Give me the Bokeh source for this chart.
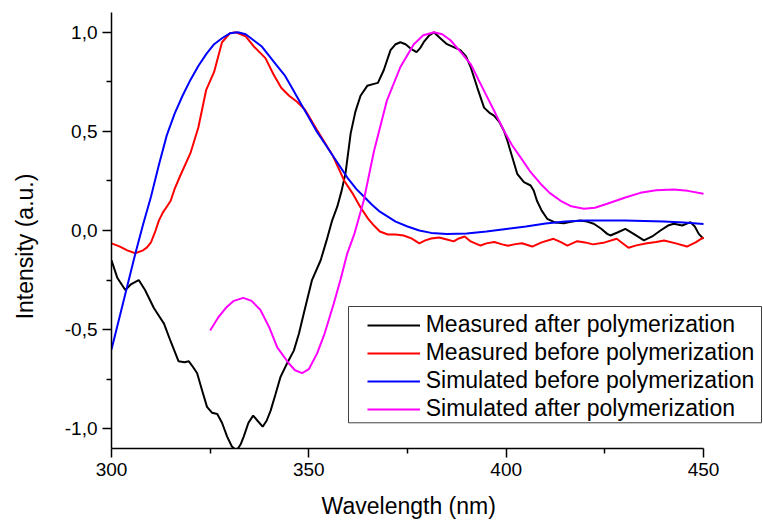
from bokeh.plotting import figure
from bokeh.models import (Range1d, FixedTicker, CustomJSTickFormatter, Legend,
                          LegendItem, BoxAnnotation)
from bokeh.embed import file_html
from bokeh.resources import INLINE

# ---------------- data ----------------
meas_after_wl = [300, 301.5, 303.5, 305, 306.9, 308.5, 310.7, 312, 313.3, 315, 317, 318.5,
                 319.6, 320.7, 321.7, 323, 324.2, 325.5, 326.8, 328, 329.3, 330.5, 331.7,
                 332.7, 333.5, 334.7, 335.9, 337, 338.3, 339.3, 340.3, 341.5, 342.8, 344.5,
                 346.2, 347.5, 348.7, 350.8, 353, 354.5, 355.9, 357.2, 358.3, 359.3, 360.6,
                 361.8, 363.1, 364.8, 366.5, 367.5, 369, 370.7, 372, 373.2, 374.5, 375.8,
                 377.3, 378.2, 379.1, 380.5, 381.7, 383.3, 385, 386.7, 388.4, 389.8, 391,
                 392.7, 394.4, 395.7, 396.9, 398.2, 399.4, 400.2, 401.1, 402.8, 404.5, 406.2,
                 407, 407.8, 409, 410.4, 412.5, 414.6, 416.7, 418.8, 420.5, 422.2, 424,
                 425.6, 426.4, 428.2, 430.2, 432.5, 434.9, 437, 439.1, 441, 442.5, 444.6,
                 446.7, 447.8, 448.8, 450]
meas_after = [-0.15, -0.24, -0.30, -0.27, -0.25, -0.30, -0.39, -0.43, -0.47, -0.56, -0.66,
              -0.665, -0.66, -0.69, -0.72, -0.81, -0.89, -0.92, -0.926, -0.97, -1.04, -1.09,
              -1.11, -1.08, -1.04, -0.97, -0.934, -0.96, -0.99, -0.96, -0.91, -0.83, -0.74,
              -0.67, -0.606, -0.52, -0.42, -0.25, -0.15, -0.05, 0.05, 0.12, 0.20, 0.29, 0.49,
              0.60, 0.68, 0.73, 0.74, 0.745, 0.81, 0.91, 0.94, 0.95, 0.94, 0.918, 0.90, 0.92,
              0.95, 0.985, 1.0, 0.97, 0.94, 0.925, 0.91, 0.88, 0.825, 0.72, 0.62, 0.595,
              0.58, 0.55, 0.505, 0.46, 0.40, 0.286, 0.244, 0.227, 0.20, 0.15, 0.10, 0.059,
              0.04, 0.037, 0.045, 0.05, 0.045, 0.034, 0.01, -0.017, -0.025, -0.01, 0.008,
              -0.02, -0.05, -0.03, 0.0, 0.025, 0.034, 0.025, 0.042, 0.02, -0.017, -0.042]

meas_before_wl = [300, 302, 304, 306, 308, 309, 310, 311, 312, 313, 314, 315, 316, 317.5,
                  320, 322, 324, 326, 328, 330, 331.5, 334, 336, 337.5, 339, 341, 343, 345,
                  347, 349, 352, 356, 359, 361, 363, 365, 366.5, 368, 370, 372, 374, 376,
                  378, 379.5, 381, 383, 385, 386.7, 388, 389.5, 391, 393.5, 395, 397, 399,
                  400.5, 402, 404, 406.6, 409, 412, 414, 415.5, 418, 420, 422, 425, 428,
                  431, 433, 435.7, 438, 440, 443, 445.8, 448, 450]
meas_before = [-0.065, -0.08, -0.10, -0.115, -0.10, -0.085, -0.06, -0.01, 0.05, 0.09, 0.12,
               0.15, 0.21, 0.28, 0.39, 0.52, 0.71, 0.80, 0.95, 0.995, 1.0, 0.98, 0.93, 0.90,
               0.87, 0.79, 0.72, 0.68, 0.65, 0.61, 0.51, 0.38, 0.25, 0.19, 0.12, 0.06, 0.025,
               -0.005, -0.02, -0.02, -0.025, -0.04, -0.065, -0.05, -0.04, -0.035, -0.045,
               -0.055, -0.04, -0.03, -0.055, -0.076, -0.065, -0.058, -0.07, -0.077, -0.07,
               -0.064, -0.081, -0.06, -0.042, -0.06, -0.076, -0.054, -0.06, -0.07, -0.06,
               -0.042, -0.087, -0.075, -0.064, -0.058, -0.05, -0.065, -0.081, -0.06, -0.035]

sim_before_wl = [300, 302, 304, 306, 308, 310, 312, 314, 316, 318, 320, 322, 324, 326, 328,
                 330, 332, 334, 336, 338, 340, 342, 344, 346, 348, 350, 352, 354, 356, 358,
                 360, 362, 364, 366, 368, 370, 372, 375, 378, 381, 385, 390, 395, 400, 405,
                 410, 415, 420, 425, 430, 435, 440, 445, 450]
sim_before = [-0.60, -0.44, -0.28, -0.12, 0.03, 0.17, 0.33, 0.48, 0.59, 0.68, 0.76, 0.83,
              0.89, 0.94, 0.97, 0.995, 1.0, 0.99, 0.96, 0.93, 0.88, 0.83, 0.78, 0.71, 0.64,
              0.57, 0.50, 0.44, 0.38, 0.32, 0.26, 0.21, 0.17, 0.13, 0.095, 0.07, 0.045, 0.02,
              0.0, -0.012, -0.018, -0.015, -0.005, 0.008, 0.02, 0.035, 0.045, 0.05, 0.05,
              0.05, 0.048, 0.046, 0.04, 0.033]

sim_after_wl = [325, 327, 329, 331, 333.4, 335.5, 337.7, 340, 342, 344.9, 346.5, 348.3, 350,
                352.1, 354, 356.3, 358, 359.7, 361.5, 363.9, 366.5, 369.8, 373.2, 376.6, 379,
                381.7, 383.8, 385.9, 388.5, 391, 393, 395.2, 397.3, 399.4, 401.5, 403.6, 406,
                408.7, 411, 413.8, 416.5, 419.7, 422.5, 425.6, 430, 434, 438, 442.5, 446, 450]
sim_after = [-0.505, -0.44, -0.39, -0.355, -0.34, -0.355, -0.40, -0.49, -0.59, -0.67, -0.705,
             -0.72, -0.70, -0.62, -0.52, -0.37, -0.25, -0.118, -0.02, 0.15, 0.40, 0.657,
             0.825, 0.94, 0.985, 1.0, 0.99, 0.96, 0.90, 0.84, 0.76, 0.673, 0.59, 0.505, 0.43,
             0.37, 0.30, 0.236, 0.19, 0.15, 0.122, 0.11, 0.115, 0.135, 0.165, 0.19, 0.203,
             0.207, 0.20, 0.185]

x_ticks = [300, 350, 400, 450]
x_minor = [325, 375, 425]
y_ticks = [-1.0, -0.5, 0.0, 0.5, 1.0]
y_minor = [-0.75, -0.25, 0.25, 0.75]

series_labels = ["Measured after polymerization", "Measured before polymerization",
                 "Simulated before polymerization", "Simulated after polymerization"]
series_colors = ["#000000", "#FF0000", "#0000FF", "#FF00FF"]

FONT = "Liberation Sans"

# frame runs to the right edge so the legend box can overhang the 450 nm end;
# the x axis line itself is bounded to 300..450 like the reference
PX_PER_NM = 592 / 150.0
FRAME_W = 652
X_END = 300 + FRAME_W / PX_PER_NM

p = figure(frame_width=FRAME_W, frame_height=436,
           min_border_left=111, min_border_right=0, min_border_top=12, min_border_bottom=73,
           x_range=Range1d(300, X_END), y_range=Range1d(-1.1, 1.1),
           output_backend="svg", toolbar_location=None,
           background_fill_color="white", border_fill_color="white")
p.outline_line_color = None
p.grid.visible = False

for ax in (p.xaxis[0], p.yaxis[0]):
    ax.axis_line_color = "black"
    ax.axis_line_width = 1.5
    ax.major_tick_line_color = "black"
    ax.minor_tick_line_color = "black"
    ax.major_tick_line_width = 1.5
    ax.minor_tick_line_width = 1.5
    ax.major_tick_in = 0
    ax.major_tick_out = 9
    ax.minor_tick_in = 0
    ax.minor_tick_out = 5
    ax.major_label_text_font = FONT
    ax.major_label_text_font_size = "19px"
    ax.major_label_text_color = "black"
    ax.axis_label_text_font = FONT
    ax.axis_label_text_font_size = "23px"
    ax.axis_label_text_font_style = "normal"
    ax.axis_label_text_color = "black"

p.xaxis.bounds = (300, 450)
p.xaxis.ticker = FixedTicker(ticks=x_ticks, minor_ticks=x_minor)
p.yaxis.ticker = FixedTicker(ticks=y_ticks, minor_ticks=y_minor)
p.yaxis.formatter = CustomJSTickFormatter(code="return tick.toFixed(1).replace('.', ',');")
p.xaxis.major_label_standoff = 5
p.yaxis.major_label_standoff = 5
# trailing no-break spaces keep the visible titles where the reference has them
p.xaxis.axis_label = "Wavelength (nm)" + "\u00a0" * 9
p.xaxis.axis_label_standoff = 14
p.yaxis.axis_label = "Intensity (a.u.)" + "\u00a0" * 5
p.yaxis.axis_label_standoff = 24

xs = [meas_after_wl, meas_before_wl, sim_before_wl, sim_after_wl]
ys = [meas_after, meas_before, sim_before, sim_after]
renderers = []
for x, y, c in zip(xs, ys, series_colors):
    renderers.append(p.line(x, y, line_color=c, line_width=2))

# legend frame (drawn separately so its left margin can be wider than the others)
box = BoxAnnotation(left=300 + 237 / PX_PER_NM, right=300 + 650 / PX_PER_NM,
                    top=-0.3835, bottom=-0.9703,
                    fill_color="white", fill_alpha=1.0,
                    line_color="#404040", line_width=1, line_alpha=1.0)
p.add_layout(box)

legend = Legend(items=[LegendItem(label=l, renderers=[r]) for l, r in zip(series_labels, renderers)],
                location=(255.7, 25.5), padding=0, spacing=0, margin=0,
                glyph_width=53, glyph_height=28, label_height=28, label_standoff=6,
                label_text_font=FONT, label_text_font_size="23px", label_text_color="black",
                border_line_color=None, background_fill_alpha=0)
p.add_layout(legend)

open("out.html", "w").write(file_html(p, INLINE))
